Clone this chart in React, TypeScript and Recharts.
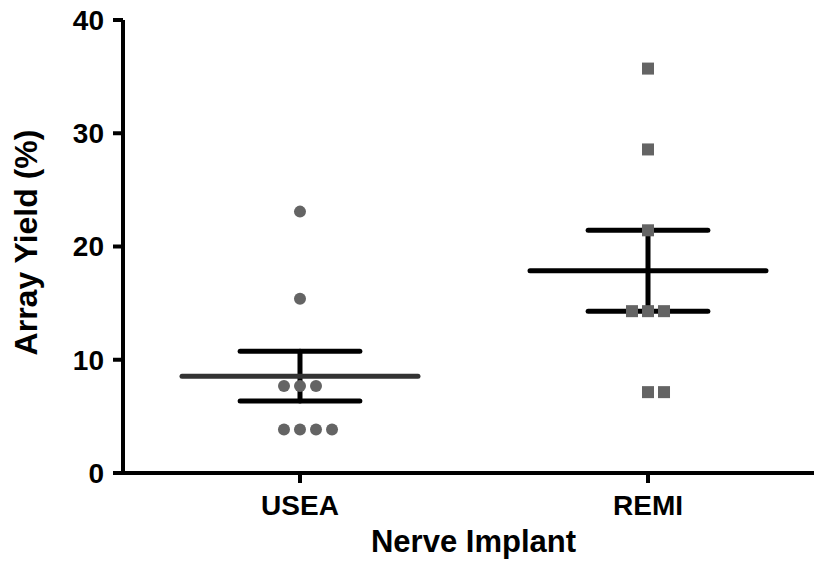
import React from 'react';
import { ScatterChart, Scatter, XAxis, YAxis, ReferenceLine, Label } from 'recharts';

const categories = ['USEA', 'REMI'];
const useaYield = [23.08, 15.38, 7.69, 7.69, 7.69, 3.85, 3.85, 3.85, 3.85];
const remiYield = [35.71, 28.57, 21.43, 14.29, 14.29, 14.29, 7.14, 7.14];
const yTicks = [0, 10, 20, 30, 40];

const FONT = '"Liberation Sans", Arial, Helvetica, sans-serif';
const STEP = 0.046; // spacing between tied points (category units)
const MEAN_HALF = 0.339;
const CAP_HALF = 0.172;

// arrange tied values side by side, like a column scatter
function arrange(values: number[], center: number) {
  const counts: Record<string, number> = {};
  values.forEach((v) => { counts[v] = (counts[v] || 0) + 1; });
  const seen: Record<string, number> = {};
  return values.map((v) => {
    const n = counts[v];
    const k = seen[v] || 0;
    seen[v] = k + 1;
    return { x: center + (k - Math.floor((n - 1) / 2)) * STEP, y: v };
  });
}

function stats(values: number[]) {
  const n = values.length;
  const mean = values.reduce((a, b) => a + b, 0) / n;
  const sd = Math.sqrt(values.reduce((a, b) => a + (b - mean) ** 2, 0) / (n - 1));
  return { mean, sem: sd / Math.sqrt(n) };
}

const useaPts = arrange(useaYield, 1);
const remiPts = arrange(remiYield, 2);
const useaStats = stats(useaYield);
const remiStats = stats(remiYield);

const Circle = (p: any) => <circle cx={p.cx} cy={p.cy} r={6} fill="#646464" />;
const Square = (p: any) => <rect x={p.cx - 6} y={p.cy - 6} width={12} height={12} fill="#646464" />;

function summary(center: number, s: { mean: number; sem: number }, meanColor: string, key: string) {
  const common = { strokeWidth: 5, strokeLinecap: 'round' as const, ifOverflow: 'visible' as const };
  return [
    <ReferenceLine key={key + 'v'} {...common} stroke="#000" segment={[{ x: center, y: s.mean - s.sem }, { x: center, y: s.mean + s.sem }]} />,
    <ReferenceLine key={key + 't'} {...common} stroke="#000" segment={[{ x: center - CAP_HALF, y: s.mean + s.sem }, { x: center + CAP_HALF, y: s.mean + s.sem }]} />,
    <ReferenceLine key={key + 'b'} {...common} stroke="#000" segment={[{ x: center - CAP_HALF, y: s.mean - s.sem }, { x: center + CAP_HALF, y: s.mean - s.sem }]} />,
    <ReferenceLine key={key + 'm'} {...common} stroke={meanColor} segment={[{ x: center - MEAN_HALF, y: s.mean }, { x: center + MEAN_HALF, y: s.mean }]} />,
  ];
}

const tickStyle = { fontSize: 28, fontWeight: 'bold', fill: '#000', fontFamily: FONT };

export default function App() {
  return (
    <div style={{ position: 'absolute', left: 0, top: 0, width: 814, height: 561, background: '#fff' }}>
      <ScatterChart width={814} height={561} margin={{ top: 20, right: 0, bottom: 0, left: 0 }}>
        <XAxis
          type="number"
          dataKey="x"
          domain={[0.4914, 2.477]}
          ticks={[1, 2]}
          tickFormatter={(v: number) => categories[Math.round(v) - 1]}
          height={88}
          stroke="#000"
          strokeWidth={4}
          tickSize={10}
          tickMargin={12}
          tick={tickStyle}
          allowDataOverflow
        >
          <Label
            content={(props: any) => {
              const vb = props.viewBox;
              return (
                <text x={vb.x + vb.width / 2 + 5} y={552} textAnchor="middle" fontSize={31} fontWeight="bold" fontFamily={FONT} fill="#000">
                  Nerve Implant
                </text>
              );
            }}
          />
        </XAxis>
        <YAxis
          type="number"
          dataKey="y"
          domain={[0, 40]}
          ticks={yTicks}
          width={123}
          stroke="#000"
          strokeWidth={4}
          tickSize={10}
          tickMargin={9}
          tick={tickStyle}
          allowDataOverflow
        >
          <Label
            content={(props: any) => {
              const vb = props.viewBox;
              const cx = vb.x + 37;
              const cy = vb.y + vb.height / 2 - 4;
              return (
                <text x={cx} y={cy} transform={`rotate(-90, ${cx}, ${cy})`} textAnchor="middle" fontSize={32} fontWeight="bold" fontFamily={FONT} fill="#000">
                  Array Yield (%)
                </text>
              );
            }}
          />
        </YAxis>
        <Scatter data={useaPts} shape={Circle} isAnimationActive={false} />
        <Scatter data={remiPts} shape={Square} isAnimationActive={false} />
        {summary(1, useaStats, '#333333', 'u')}
        {summary(2, remiStats, '#000000', 'r')}
      </ScatterChart>
    </div>
  );
}
